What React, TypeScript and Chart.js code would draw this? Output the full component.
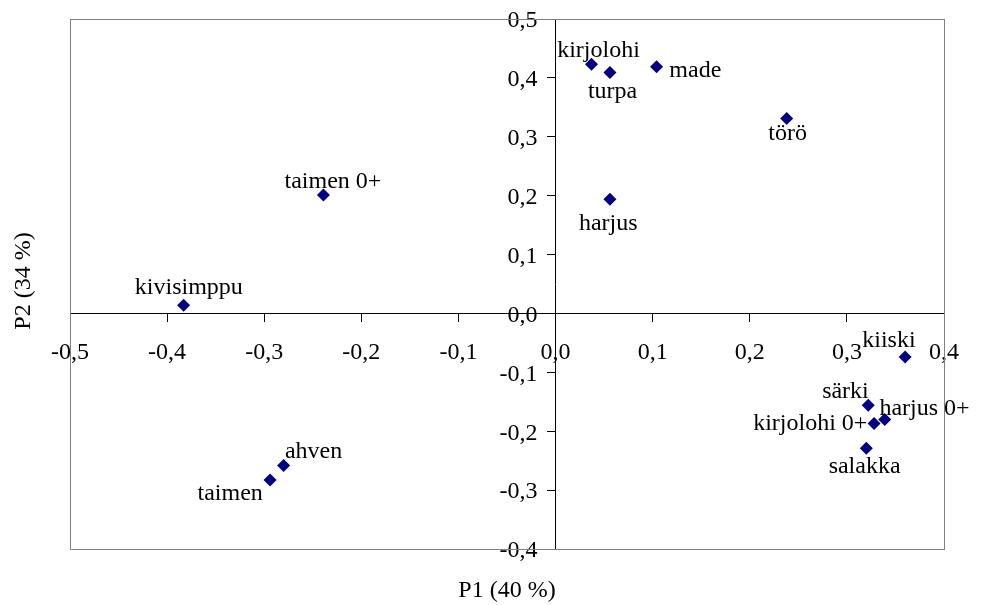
import React, { useEffect, useRef } from "react";
import { Chart, registerables } from "chart.js";

Chart.register(...registerables);

// ---- data ----
const speciesNames = [
  "kirjolohi",
  "turpa",
  "made",
  "törö",
  "harjus",
  "taimen 0+",
  "kivisimppu",
  "ahven",
  "taimen",
  "kiiski",
  "särki",
  "harjus 0+",
  "kirjolohi 0+",
  "salakka",
];
const p1Values = [0.037, 0.056, 0.104, 0.238, 0.056, -0.239, -0.383, -0.28, -0.294, 0.36, 0.322, 0.339, 0.328, 0.32];
const p2Values = [0.423, 0.409, 0.419, 0.331, 0.194, 0.201, 0.014, -0.258, -0.283, -0.074, -0.156, -0.18, -0.187, -0.229];
const xTickValues = [-0.5, -0.4, -0.3, -0.2, -0.1, 0.0, 0.1, 0.2, 0.3, 0.4];
const yTickValues = [-0.4, -0.3, -0.2, -0.1, 0.0, 0.1, 0.2, 0.3, 0.4, 0.5];
const xAxisTitle = "P1 (40 %)";
const yAxisTitle = "P2 (34 %)";

// label placement relative to each marker (px): [dx of text centre, dy of baseline]
const labelOffsets: [number, number][] = [
  [7, -7.6],
  [2.6, 25.7],
  [38.8, 10],
  [1, 21.7],
  [-1.7, 31],
  [9.5, -6.7],
  [5.2, -11.7],
  [29.9, -7.7],
  [-39.9, 20],
  [-16.2, -10],
  [-22.8, -7],
  [39.8, -4.3],
  [-63.8, 6.7],
  [-1.7, 24.7],
];

const FONT_FAMILY = '"Liberation Serif", "Times New Roman", serif';
const FONT_SIZE = 24;

const fmt = (v: number) => {
  if (Math.abs(v) < 1e-9) return "0,0";
  return v.toFixed(1).replace(".", ",");
};

const frameAndTitles = {
  id: "frameAndTitles",
  beforeDatasetsDraw(chart: any) {
    const { ctx, chartArea } = chart;
    ctx.save();
    ctx.strokeStyle = "#808080";
    ctx.lineWidth = 1;
    ctx.strokeRect(
      Math.round(chartArea.left) + 0.5,
      Math.round(chartArea.top) + 0.5,
      Math.round(chartArea.right - chartArea.left),
      Math.round(chartArea.bottom - chartArea.top)
    );
    ctx.restore();
  },
  afterDraw(chart: any) {
    const { ctx, chartArea } = chart;
    ctx.save();
    ctx.fillStyle = "#000";
    ctx.font = `${FONT_SIZE}px ${FONT_FAMILY}`;
    ctx.textAlign = "center";
    ctx.textBaseline = "middle";
    ctx.fillText(xAxisTitle, (chartArea.left + chartArea.right) / 2, 591);
    ctx.translate(24, (chartArea.top + chartArea.bottom) / 2 - 3);
    ctx.rotate(-Math.PI / 2);
    ctx.fillText(yAxisTitle, 0, 0);
    ctx.restore();
  },
};

const pointLabels = {
  id: "pointLabels",
  afterDatasetsDraw(chart: any) {
    const { ctx } = chart;
    const meta = chart.getDatasetMeta(0);
    ctx.save();
    ctx.fillStyle = "#000";
    ctx.font = `${FONT_SIZE}px ${FONT_FAMILY}`;
    ctx.textAlign = "center";
    ctx.textBaseline = "alphabetic";
    meta.data.forEach((pt: any, i: number) => {
      const [dx, dy] = labelOffsets[i];
      ctx.fillText(speciesNames[i], pt.x + dx, pt.y + dy);
    });
    ctx.restore();
  },
};

export default function App() {
  const ref = useRef<HTMLCanvasElement | null>(null);

  useEffect(() => {
    if (!ref.current) return;
    const chart = new Chart(ref.current, {
      type: "scatter",
      data: {
        datasets: [
          {
            label: "PCA",
            data: speciesNames.map((_, i) => ({ x: p1Values[i], y: p2Values[i] })),
            pointStyle: "rectRot",
            pointRadius: 6.5,
            pointHoverRadius: 6.5,
            backgroundColor: "#000080",
            borderColor: "#000080",
            borderWidth: 0,
          },
        ],
      },
      options: {
        animation: false,
        responsive: false,
        events: [],
        layout: { padding: { left: 70, right: 39, top: 19, bottom: 56 } },
        plugins: {
          legend: { display: false },
          tooltip: { enabled: false },
        },
        scales: {
          x: {
            type: "linear",
            min: -0.5,
            max: 0.4,
            position: { y: 0 } as any,
            afterBuildTicks: (scale: any) => {
              scale.ticks = xTickValues.map((v) => ({ value: v }));
            },
            ticks: {
              autoSkip: false,
              maxRotation: 0,
              padding: 17,
              color: "#000",
              font: { family: FONT_FAMILY, size: FONT_SIZE },
              callback: (v: any) => fmt(Number(v)),
            },
            grid: {
              drawOnChartArea: false,
              drawTicks: true,
              tickLength: 8,
              color: "#000",
            },
            border: { display: true, color: "#000", width: 1 },
          },
          y: {
            type: "linear",
            min: -0.4,
            max: 0.5,
            position: { x: 0 } as any,
            afterBuildTicks: (scale: any) => {
              scale.ticks = yTickValues.map((v) => ({ value: v }));
            },
            ticks: {
              autoSkip: false,
              padding: 0,
              labelOffset: 2,
              color: "#000",
              font: { family: FONT_FAMILY, size: FONT_SIZE },
              // trailing spaces keep the right-aligned labels clear of the axis line
              callback: (v: any) => fmt(Number(v)) + "   ",
            },
            grid: {
              drawOnChartArea: false,
              drawTicks: true,
              tickLength: 8,
              color: "#000",
            },
            border: { display: true, color: "#000", width: 1 },
          },
        },
      },
      plugins: [frameAndTitles, pointLabels],
    });
    return () => chart.destroy();
  }, []);

  return (
    <div style={{ position: "absolute", left: 0, top: 0, width: 983, height: 605, background: "#fff" }}>
      <canvas ref={ref} width={983} height={605} style={{ width: 983, height: 605, display: "block" }} />
    </div>
  );
}
